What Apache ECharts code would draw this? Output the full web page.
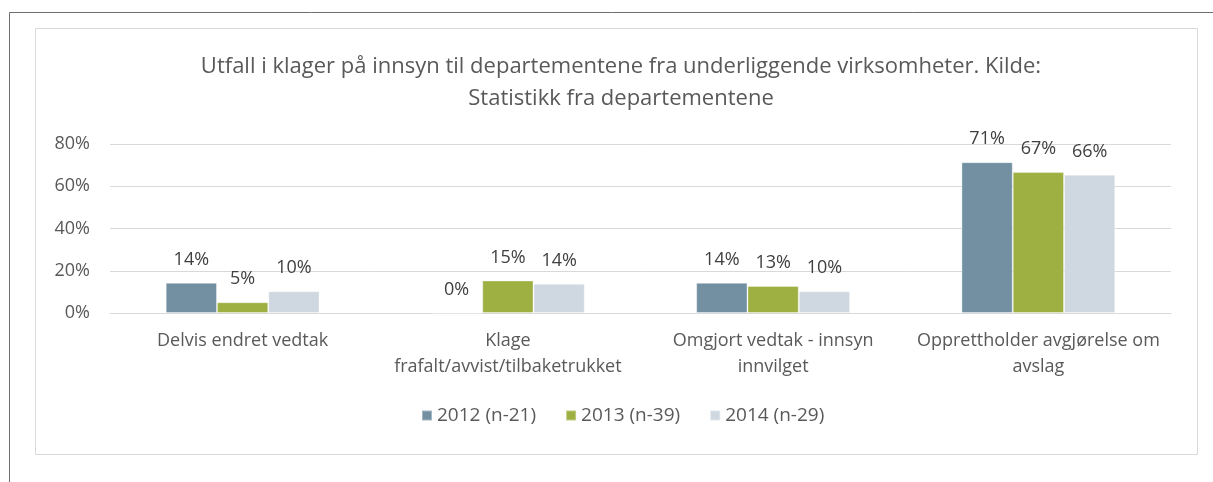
<!DOCTYPE html>
<html><head><meta charset="utf-8">
<script src="https://cdn.jsdelivr.net/npm/echarts@6/dist/echarts.min.js"></script>
<style>html,body{margin:0;padding:0;background:#fff}#c{width:1213px;height:482px}</style>
</head><body><div id="c"></div>
<script>
const categories = ['Delvis endret vedtak', 'Klage\nfrafalt/avvist/tilbaketrukket', 'Omgjort vedtak - innsyn\ninnvilget', 'Opprettholder avgjørelse om\navslag'];
const seriesNames = ['2012 (n-21)', '2013 (n-39)', '2014 (n-29)'];
const v2012 = [14.3, 0, 14.3, 71.4];
const v2013 = [5.1, 15.4, 12.8, 66.7];
const v2014 = [10.3, 13.8, 10.3, 65.5];
const yTicks = [0, 20, 40, 60, 80];
const colors = ['#7290a2', '#9fb043', '#cfd8e0'];
const FONT = 'Open Sans';
const chart = echarts.init(document.getElementById('c'));
function mk(name, data, i) {
  return {
    name, type: 'bar', data, barGap: '0%', barCategoryGap: '42%',
    itemStyle: { color: colors[i], borderColor: 'rgba(255,255,255,0.35)', borderWidth: 1 },
    label: { show: true, position: 'top', distance: 14, color: '#404040', fontFamily: FONT, fontSize: 18,
      formatter: p => Math.round(p.value) + '%' }
  };
}
chart.setOption({
  animation: false,
  title: { text: 'Utfall i klager på innsyn til departementene fra underliggende virksomheter. Kilde:\nStatistikk fra departementene',
    left: 616, textAlign: 'center', top: 46,
    textStyle: { fontFamily: FONT, fontSize: 22, fontWeight: 'normal', color: '#595959', lineHeight: 32 } },
  legend: { data: seriesNames, bottom: 52, left: 416, itemWidth: 10, itemHeight: 10, itemGap: 29,
    icon: 'rect', textStyle: { fontFamily: FONT, fontSize: 19, color: '#595959' } },
  grid: { left: 110, right: 42, top: 144, bottom: 169, containLabel: false },
  xAxis: { type: 'category', data: categories,
    axisLine: { lineStyle: { color: '#d9d9d9' } }, axisTick: { show: false },
    axisLabel: { fontFamily: FONT, fontSize: 18, color: '#595959', margin: 15, lineHeight: 26, interval: 0 } },
  yAxis: { type: 'value', min: 0, max: 80, interval: 20,
    axisLine: { show: false }, axisTick: { show: false },
    splitLine: { lineStyle: { color: '#d9d9d9', width: 1 } },
    axisLabel: { fontFamily: FONT, fontSize: 18, color: '#595959', margin: 20,
      formatter: v => yTicks.includes(v) ? v + '%' : '' } },
  graphic: [
    { type: 'rect', shape: { x: 9.5, y: 12.5, width: 1300, height: 600 }, style: { fill: 'none', stroke: '#6e6e6e', lineWidth: 1 }, silent: true },
    { type: 'rect', shape: { x: 35.5, y: 28.5, width: 1162, height: 426 }, style: { fill: 'none', stroke: '#d9d9d9', lineWidth: 1 }, silent: true }
  ],
  series: [mk(seriesNames[0], v2012, 0), mk(seriesNames[1], v2013, 1), mk(seriesNames[2], v2014, 2)]
});
</script></body></html>
